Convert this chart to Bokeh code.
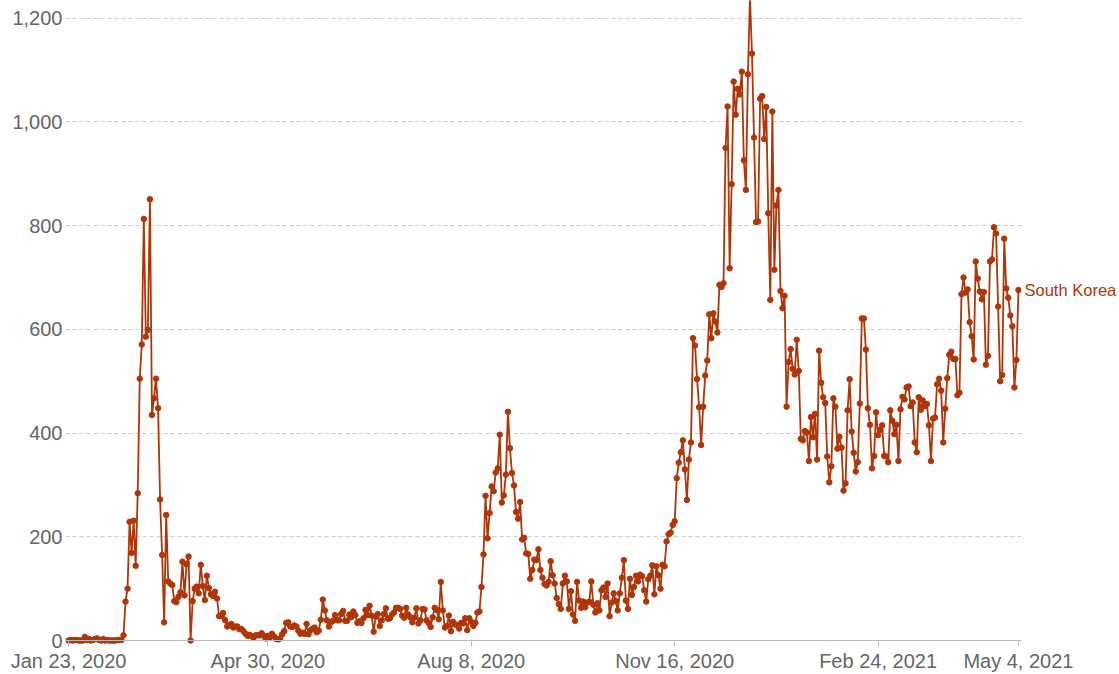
import datetime as dt
from bokeh.plotting import figure
from bokeh.models import (Range1d, FixedTicker, NumeralTickFormatter, Span,
                          ColumnDataSource, LinearAxis)
from bokeh.embed import file_html
from bokeh.resources import INLINE

country = "South Korea"
start_date = dt.date(2020, 1, 23)

# daily new confirmed cases, one list per month (first list starts Jan 23, 2020)
cases_2020_01 = [0, 1, 0, 1, 1, 0, 0, 0, 7]
cases_2020_02 = [1, 3, 0, 1, 3, 4, 1, 0, 3, 0, 1, 0, 0, 0, 0, 1, 1, 1, 10, 75, 100,
                 229, 169, 231, 144, 284, 505, 571, 813]
cases_2020_03 = [586, 599, 851, 435, 467, 505, 448, 272, 165, 35, 242, 114, 110, 107,
                 76, 74, 84, 93, 152, 87, 147, 162, 0, 76, 100, 104, 91, 146, 105, 78, 125]
cases_2020_04 = [101, 89, 86, 94, 81, 47, 47, 53, 39, 27, 30, 32, 25, 27, 27, 22, 22,
                 18, 13, 9, 11, 8, 6, 10, 10, 10, 14, 9, 4, 9]
cases_2020_05 = [6, 13, 8, 3, 2, 4, 12, 18, 34, 35, 27, 26, 29, 27, 19, 13, 15, 13, 32,
                 12, 20, 23, 25, 16, 19, 40, 79, 58, 39, 27, 35]
cases_2020_06 = [38, 49, 39, 39, 51, 57, 38, 38, 50, 45, 56, 49, 34, 37, 34, 43, 59, 49,
                 67, 48, 17, 46, 51, 28, 39, 51, 62, 42, 43, 50]
cases_2020_07 = [54, 63, 63, 61, 48, 44, 63, 50, 45, 35, 44, 62, 33, 39, 61, 60, 39, 34,
                 26, 45, 63, 59, 41, 113, 58, 25, 28, 48, 18, 36, 31]
cases_2020_08 = [30, 23, 34, 33, 43, 20, 43, 36, 28, 34, 54, 56, 103, 166, 279, 197, 246,
                 297, 288, 324, 332, 397, 266, 280, 320, 441, 371, 323, 299, 248, 235]
cases_2020_09 = [267, 195, 198, 168, 167, 119, 136, 156, 155, 176, 136, 121, 109, 106,
                 113, 153, 126, 110, 82, 70, 61, 110, 125, 114, 61, 95, 50, 38, 113, 77]
cases_2020_10 = [63, 75, 64, 73, 75, 114, 69, 54, 72, 58, 97, 102, 84, 110, 47, 73, 91,
                 76, 58, 91, 121, 155, 77, 61, 119, 88, 103, 125, 114, 127, 124]
cases_2020_11 = [97, 75, 118, 125, 145, 89, 143, 126, 100, 146, 143, 191, 205, 208, 223,
                 230, 313, 343, 363, 386, 330, 271, 349, 382, 583, 569, 504, 450, 377, 451]
cases_2020_12 = [511, 540, 629, 583, 631, 615, 594, 686, 682, 689, 950, 1030, 718, 880,
                 1078, 1014, 1064, 1053, 1097, 926, 869, 1092, 1241, 1132, 970, 807, 808,
                 1045, 1050, 967, 1029]
cases_2021_01 = [824, 657, 1020, 715, 839, 869, 674, 641, 665, 451, 537, 562, 524, 513,
                 580, 520, 389, 386, 404, 401, 346, 431, 392, 437, 349, 559, 497, 469, 458,
                 355, 305]
cases_2021_02 = [336, 467, 451, 370, 393, 372, 289, 303, 444, 504, 403, 362, 326, 344,
                 457, 621, 621, 561, 448, 416, 332, 356, 440, 396, 406, 415, 356, 355]
cases_2021_03 = [344, 444, 424, 398, 416, 346, 446, 470, 465, 488, 490, 452, 459, 382,
                 363, 469, 445, 463, 452, 456, 415, 346, 428, 430, 494, 505, 482, 382, 447,
                 506, 551]
cases_2021_04 = [557, 543, 543, 473, 478, 668, 700, 671, 677, 614, 587, 542, 731, 698,
                 673, 658, 672, 532, 549, 731, 735, 797, 785, 644, 500, 512, 775, 679, 661,
                 627]
cases_2021_05 = [606, 488, 541, 676]

tick_dates = [dt.date(2020, 1, 23), dt.date(2020, 4, 30), dt.date(2020, 8, 8),
              dt.date(2020, 11, 16), dt.date(2021, 2, 24), dt.date(2021, 5, 4)]
tick_labels = ["Jan 23, 2020", "Apr 30, 2020", "Aug 8, 2020", "Nov 16, 2020",
               "Feb 24, 2021", "May 4, 2021"]
y_ticks = [0, 200, 400, 600, 800, 1000, 1200]

cases = (cases_2020_01 + cases_2020_02 + cases_2020_03 + cases_2020_04 + cases_2020_05
         + cases_2020_06 + cases_2020_07 + cases_2020_08 + cases_2020_09 + cases_2020_10
         + cases_2020_11 + cases_2020_12 + cases_2021_01 + cases_2021_02 + cases_2021_03
         + cases_2021_04 + cases_2021_05)
n = len(cases)
days = list(range(n))
tick_pos = [(d - start_date).days for d in tick_dates]

color = "#B13507"
grey = "#666666"
font = "Liberation Sans"

src = ColumnDataSource(dict(day=days, cases=cases))

p = figure(width=1119, height=674, output_backend="svg", toolbar_location=None,
           x_range=Range1d(-1.5, n - 1 + 1.5), y_range=Range1d(-7.7, 1234.3),
           min_border_left=65, min_border_right=98, min_border_top=0, min_border_bottom=30)
p.outline_line_color = None
p.background_fill_color = "white"
p.border_fill_color = "white"

p.xgrid.grid_line_color = None
p.ygrid.grid_line_color = "#cccccc"
p.ygrid.grid_line_dash = "4 3"
p.ygrid.grid_line_width = 1

p.yaxis.ticker = FixedTicker(ticks=y_ticks)
p.yaxis.formatter = NumeralTickFormatter(format="0,0")
p.yaxis.axis_line_color = None
p.yaxis.major_tick_line_color = None
p.yaxis.minor_tick_line_color = None
p.yaxis.major_tick_out = 0
p.yaxis.major_tick_in = 0
p.yaxis.major_label_standoff = 3
p.yaxis.major_label_text_color = grey
p.yaxis.major_label_text_font = font
p.yaxis.major_label_text_font_size = "20px"

p.xaxis.ticker = FixedTicker(ticks=tick_pos)
p.xaxis.major_label_overrides = {t: l for t, l in zip(tick_pos, tick_labels)}
p.xaxis.axis_line_color = None
p.xaxis.major_tick_line_color = "#bbbbbb"
p.xaxis.minor_tick_line_color = None
p.xaxis.major_tick_in = 4
p.xaxis.major_tick_out = 2
p.xaxis.major_label_standoff = 3
p.xaxis.major_label_text_color = grey
p.xaxis.major_label_text_font = font
p.xaxis.major_label_text_font_size = "20px"

# series name placed at the last value, on a right-hand axis
name_axis = LinearAxis(ticker=FixedTicker(ticks=[cases[-1]]),
                       major_label_overrides={cases[-1]: country})
name_axis.axis_line_color = None
name_axis.major_tick_line_color = None
name_axis.minor_tick_line_color = None
name_axis.major_tick_in = 0
name_axis.major_tick_out = 0
name_axis.major_label_standoff = 3
name_axis.major_label_text_color = color
name_axis.major_label_text_font = font
name_axis.major_label_text_font_size = "16.5px"
p.add_layout(name_axis, "right")

p.add_layout(Span(location=0, dimension="width", line_color="#bbbbbb", line_width=1))

p.line("day", "cases", source=src, line_color=color, line_width=1.8)
p.scatter("day", "cases", source=src, size=5.5, fill_color=color, line_color=color)

open("out.html", "w").write(file_html(p, INLINE))
